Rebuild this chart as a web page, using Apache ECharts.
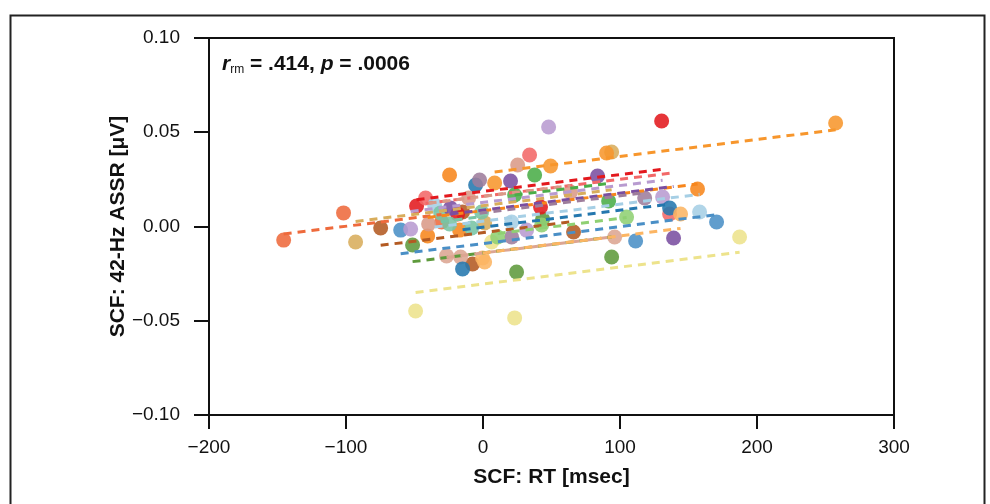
<!DOCTYPE html>
<html><head><meta charset="utf-8">
<script src="https://cdn.jsdelivr.net/npm/echarts@6/dist/echarts.min.js"></script>
<style>html,body{margin:0;padding:0;background:#fff}#c{width:990px;height:504px}</style>
</head><body><div id="c"></div>
<script>
// ---- data ----
const subjects = ['orangeRed','tan','brown','blue','lightPurple','darkGreen','yellow','red','coral','orange',
  'salmonA','salmonB','lightBlue','teal','purple','darkBlue','mauve','lightOrange','orangeTop','lightGreen','green'];
const rtBySubject = [
  [-145.5, -101.8, -30.2],
  [-93.0, 1.2, 93.9],
  [-74.7, -14.9, -7.6, 66.1],
  [-60.1, 111.4, 170.5],
  [-52.8, 31.8, 47.9, 131.1],
  [-51.4, 24.5, 43.5, 93.9],
  [-49.2, 6.3, 23.1, 187.3],
  [-48.5, -18.5, 42.0, 130.4],
  [-41.9, 34.0, 136.2],
  [-40.4, -24.4, -17.1, 156.6],
  [-39.7, -10.5, 25.3, 63.9],
  [-26.6, -16.4, 96.1],
  [-35.3, 20.9, 158.1],
  [-30.9, -24.4, -8.3, -1.0],
  [-23.7, 20.1, 83.6, 139.1],
  [-14.9, -5.4, 136.2],
  [-2.5, 20.9, 118.0],
  [-0.3, 1.2, 144.2],
  [8.5, 49.3, 90.2, 257.4],
  [10.7, 42.8, 104.8],
  [23.1, 37.7, 91.7]
];
const assrBySubject = [
  [-0.0072, 0.0072, 0.0024],
  [-0.0082, 0.0019, 0.0395],
  [-0.0008, 0.0077, -0.0199, -0.0029],
  [-0.0019, -0.0077, 0.0024],
  [-0.0013, -0.0019, 0.0528, 0.0156],
  [-0.0098, -0.0241, 0.0040, -0.0162],
  [-0.0448, -0.0082, -0.0485, -0.0056],
  [0.0109, 0.0066, 0.0103, 0.0560],
  [0.0151, 0.0379, 0.0066],
  [-0.0050, 0.0273, -0.0019, 0.0199],
  [0.0013, 0.0151, 0.0326, 0.0183],
  [-0.0156, -0.0162, -0.0056],
  [0.0114, 0.0024, 0.0077],
  [0.0072, 0.0013, -0.0008, 0.0077],
  [0.0098, 0.0241, 0.0268, -0.0061],
  [-0.0225, 0.0220, 0.0098],
  [0.0247, -0.0056, 0.0151],
  [-0.0167, -0.0188, 0.0066],
  [0.0231, 0.0321, 0.0390, 0.0549],
  [-0.0056, 0.0008, 0.0050],
  [0.0167, 0.0273, 0.0135]
];
const xTicks = [-200, -100, 0, 100, 200, 300];
const yTicks = [-0.10, -0.05, 0.00, 0.05, 0.10];
const rmSlope = 0.00009;      // common within-subject slope (rmcorr)
const rRm = '.414';
const pValue = '.0006';
const xTitle = 'SCF: RT [msec]';
const yTitle = 'SCF: 42-Hz ASSR [\u03bcV]';

// ---- styles ----
const subjectColors = ['#ee6a3c','#d8ad5c','#b35a22','#4a8fc6','#b89bd0','#5e9a3c','#ede38c','#e3191e','#f26868','#f7861c',
  '#d99a88','#dca592','#a6cfe5','#78c4a4','#7a4ea0','#2477ae','#9e7d9c','#fcb563','#f7962c','#8fd073','#4aad48'];

const fmt = v => {
  const s = Math.abs(v) < 1e-9 ? '0' : String(Math.round(v));
  return s.replace('-', '\u2212');
};
const fmtY = v => {
  const s = (Math.abs(v) < 1e-9 ? 0 : v).toFixed(2);
  return s.replace('-', '\u2212');
};

const series = [];
subjects.forEach((name, i) => {
  const xs = rtBySubject[i], ys = assrBySubject[i];
  const pts = xs.map((x, j) => [x, ys[j]]);
  series.push({
    type: 'scatter', name: name, data: pts, symbolSize: 15, z: 2,
    itemStyle: {color: subjectColors[i], opacity: 0.88},
    emphasis: {disabled: true}, silent: true
  });
});
subjects.forEach((name, i) => {
  const xs = rtBySubject[i], ys = assrBySubject[i];
  const mx = xs.reduce((a, b) => a + b, 0) / xs.length;
  const my = ys.reduce((a, b) => a + b, 0) / ys.length;
  const lo = Math.min(...xs), hi = Math.max(...xs);
  series.push({
    type: 'line', name: name + ' fit', showSymbol: false, z: 3, silent: true,
    data: [[lo, my + rmSlope * (lo - mx)], [hi, my + rmSlope * (hi - mx)]],
    lineStyle: {color: subjectColors[i], width: 3, type: [8, 6]}
  });
});

const chart = echarts.init(document.getElementById('c'), null, {renderer: 'canvas'});
chart.setOption({
  animation: false,
  backgroundColor: '#fff',
  grid: {left: 209, right: 96, top: 38, bottom: 89, show: true, borderColor: '#111', borderWidth: 2, backgroundColor: 'transparent'},
  xAxis: {
    type: 'value', min: xTicks[0], max: xTicks[xTicks.length - 1], interval: 100,
    name: xTitle, nameLocation: 'middle', nameGap: 52, nameMoveOverlap: false,
    nameTextStyle: {fontFamily: 'Liberation Sans', fontWeight: 'bold', fontSize: 21, color: '#111'},
    axisLine: {show: true, onZero: false, lineStyle: {color: '#111', width: 2}},
    axisTick: {show: true, inside: false, length: 14, lineStyle: {color: '#111', width: 2}},
    axisLabel: {margin: 23, fontFamily: 'Liberation Sans', fontSize: 19, color: '#111', formatter: fmt},
    splitLine: {show: false}
  },
  yAxis: {
    type: 'value', min: yTicks[0], max: yTicks[yTicks.length - 1], interval: 0.05,
    name: yTitle, nameLocation: 'middle', nameGap: 80, nameMoveOverlap: false,
    nameTextStyle: {fontFamily: 'Liberation Sans', fontWeight: 'bold', fontSize: 21, color: '#111'},
    axisLine: {show: true, onZero: false, lineStyle: {color: '#111', width: 2}},
    axisTick: {show: true, inside: false, length: 15, lineStyle: {color: '#111', width: 2}},
    axisLabel: {margin: 29, fontFamily: 'Liberation Sans', fontSize: 19, color: '#111', formatter: fmtY},
    splitLine: {show: false}
  },
  graphic: [
    {type: 'rect', left: 8, top: 13, shape: {width: 974, height: 500}, style: {fill: 'none', stroke: '#222', lineWidth: 2}, silent: true},
    {type: 'text', left: 222, top: 54, silent: true, style: {
      text: '{ri|r}{sub|rm}{b| = ' + rRm + ', }{ri|p}{b| = ' + pValue + '}',
      rich: {
        ri: {fontFamily: 'Liberation Sans', fontWeight: 'bold', fontStyle: 'italic', fontSize: 21, lineHeight: 22, verticalAlign: 'middle', fill: '#111'},
        sub: {fontFamily: 'Liberation Sans', fontSize: 12, lineHeight: 22, verticalAlign: 'bottom', fill: '#111'},
        b: {fontFamily: 'Liberation Sans', fontWeight: 'bold', fontSize: 21, lineHeight: 22, verticalAlign: 'middle', fill: '#111'}
      }
    }}
  ],
  series: series
});
</script>
</body></html>
